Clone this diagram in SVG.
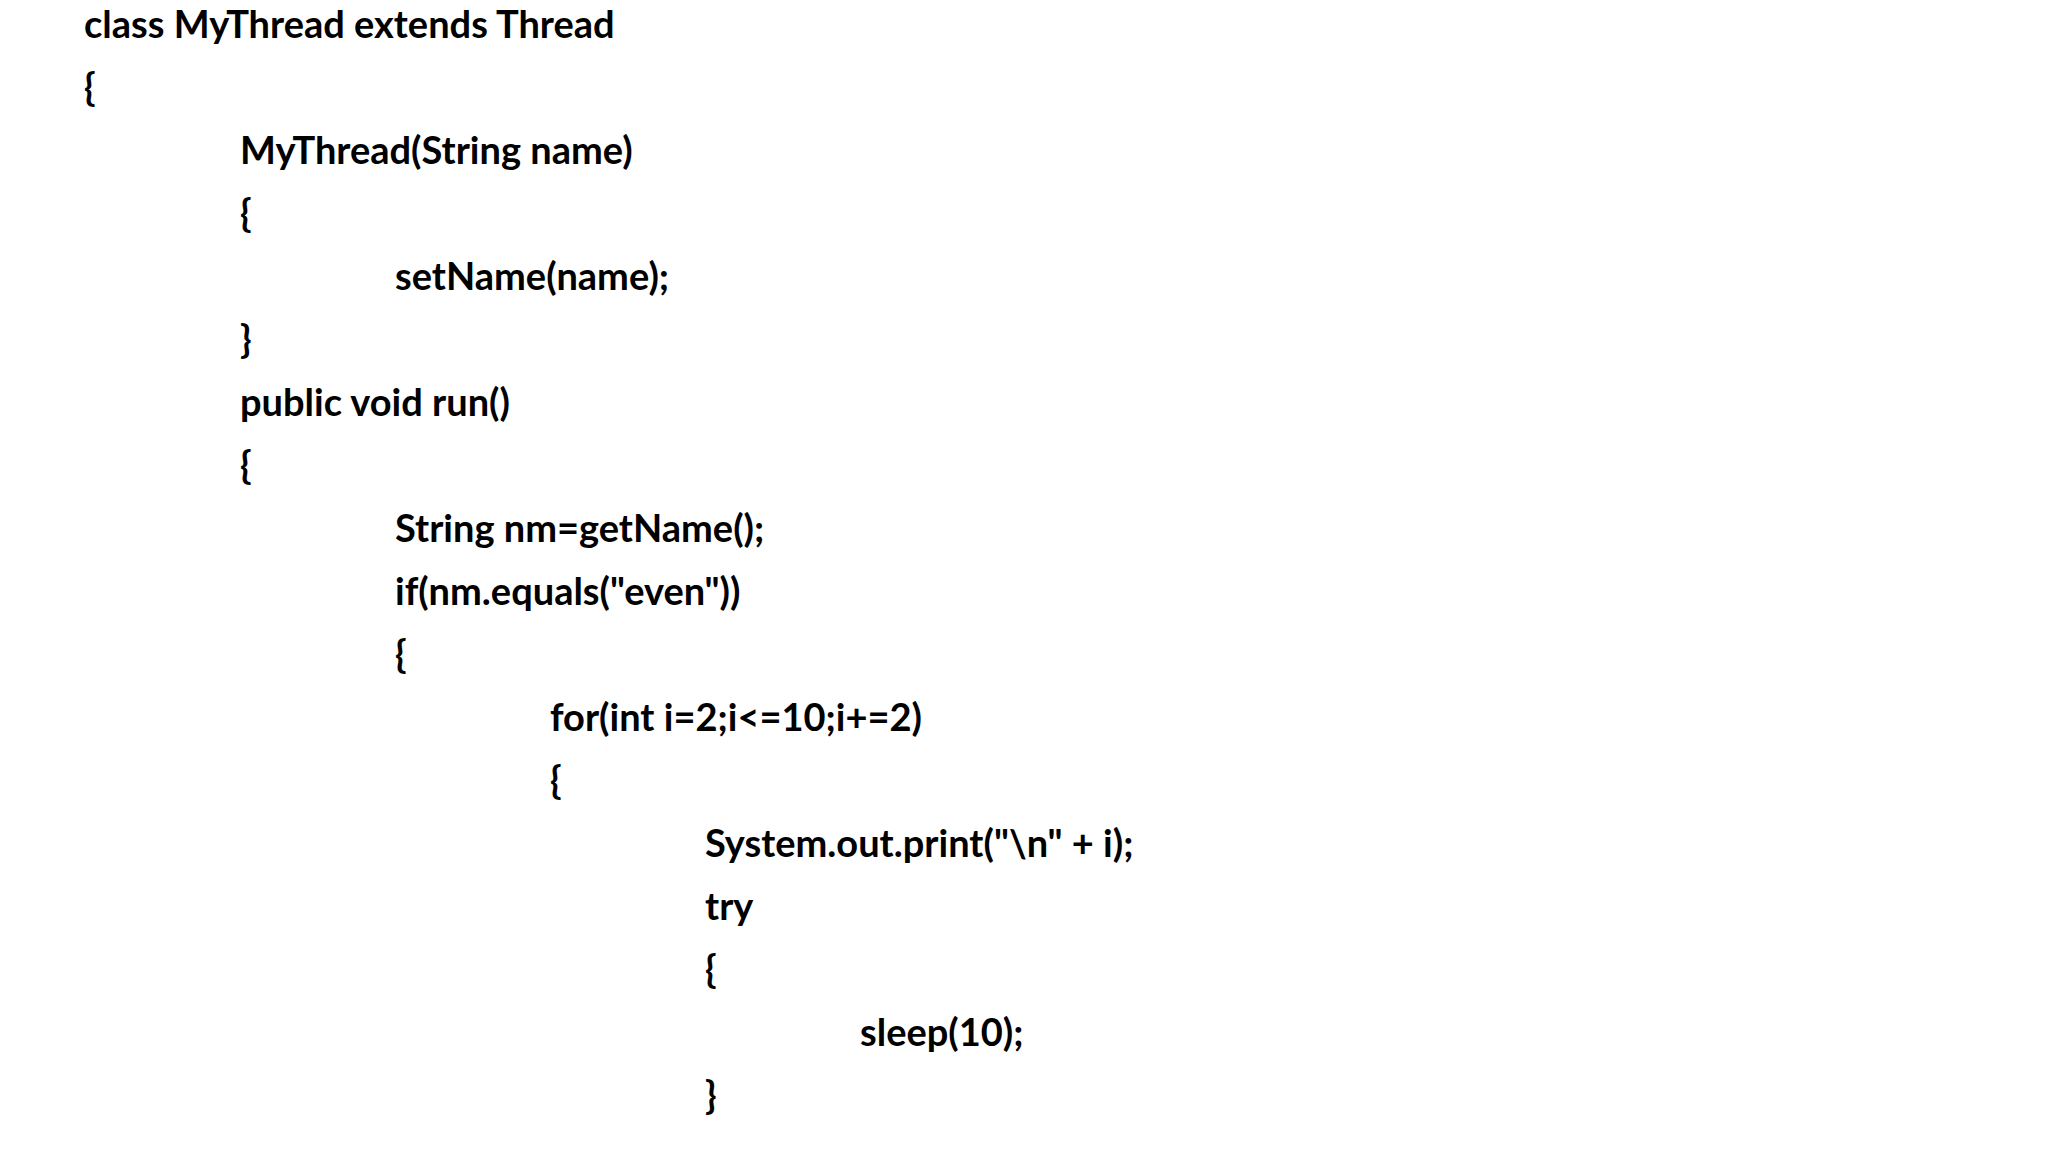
<svg xmlns="http://www.w3.org/2000/svg" width="2048" height="1152" viewBox="0 0 2048 1152">
<style>text{font-family:Lato,"Open Sans",sans-serif;font-weight:bold;font-size:38px;fill:#000}</style>
<rect width="2048" height="1152" fill="#fff"/>
<g id="code">
<text x="84" y="38">class MyThread extends Thread</text>
<text x="84" y="101">{</text>
<text x="240" y="164">MyThread(String name)</text>
<text x="240" y="227">{</text>
<text x="395" y="290">setName(name);</text>
<text x="240" y="353">}</text>
<text x="240" y="416">public void run()</text>
<text x="240" y="479">{</text>
<text x="395" y="542">String nm=getName();</text>
<text x="395" y="605">if(nm.equals("even"))</text>
<text x="395" y="668">{</text>
<text x="550" y="731">for(int i=2;i&lt;=10;i+=2)</text>
<text x="550" y="794">{</text>
<text x="705" y="857">System.out.print("\n" + i);</text>
<text x="705" y="920">try</text>
<text x="705" y="983">{</text>
<text x="860" y="1046">sleep(10);</text>
<text x="705" y="1109">}</text>
</g>
</svg>
